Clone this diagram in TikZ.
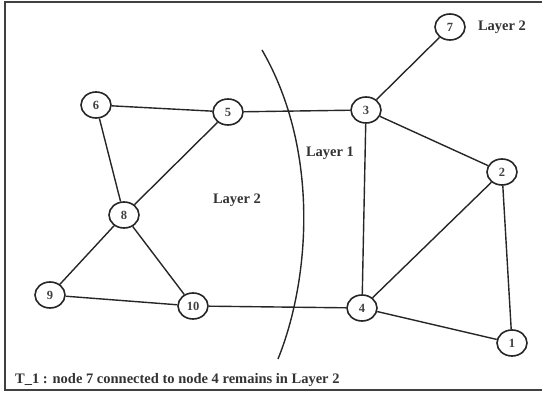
\documentclass[tikz,border=0pt]{standalone}
\usepackage{fontspec}
\setmainfont{Liberation Serif}
\usetikzlibrary{shapes.geometric}
\begin{document}
\begin{tikzpicture}[x=1pt,y=-1pt,
  vert/.style={draw=black!85,line width=1.6pt,ellipse,minimum width=30pt,minimum height=26pt,inner sep=0pt,font=\fontsize{12.5}{12.5}\selectfont\bfseries,text=black!75},
  edge/.style={draw=black!85,line width=1.4pt},
  lbl/.style={font=\fontsize{14.5}{14.5}\selectfont\bfseries,text=black!80}]
\useasboundingbox (0,0) rectangle (542,395);
\draw[draw=black!75,line width=2pt] (542,2) -- (5,2) -- (5,390) -- (542,390);
\node[vert] (n7) at (450,27) {7};
\node[vert] (n3) at (366,110) {3};
\node[vert] (n2) at (502,172) {2};
\node[vert] (n6) at (96,105) {6};
\node[vert] (n5) at (228,112) {5};
\node[vert] (n8) at (124,215) {8};
\node[vert] (n9) at (50,295) {9};
\node[vert] (n10) at (193,306) {10};
\node[vert] (n4) at (362,308) {4};
\node[vert] (n1) at (512,343) {1};
\node[lbl] (l7) at (502,27) {Layer 2};
\node[lbl] (l1) at (330,153) {Layer 1};
\node[lbl] (l2) at (237,200) {Layer 2};
\node[anchor=base west,font=\fontsize{14.5}{14.5}\selectfont\bfseries,text=black!80,inner sep=0pt] (cap) at (15,384) {T\_1 : node 7 connected to node 4 remains in Layer 2};
\coordinate (a0) at (262,50);
\coordinate (a1) at (278,359);
\draw[edge] (a0) .. controls (320,150) and (310,280) .. (a1);
\draw[edge] (n7) -- (n3);
\draw[edge] (n3) -- (n5);
\draw[edge] (n5) -- (n6);
\draw[edge] (n6) -- (n8);
\draw[edge] (n5) -- (n8);
\draw[edge] (n8) -- (n9);
\draw[edge] (n8) -- (n10);
\draw[edge] (n9) -- (n10);
\draw[edge] (n10) -- (n4);
\draw[edge] (n3) -- (n4);
\draw[edge] (n3) -- (n2);
\draw[edge] (n2) -- (n4);
\draw[edge] (n2) -- (n1);
\draw[edge] (n4) -- (n1);
\end{tikzpicture}
\end{document}
